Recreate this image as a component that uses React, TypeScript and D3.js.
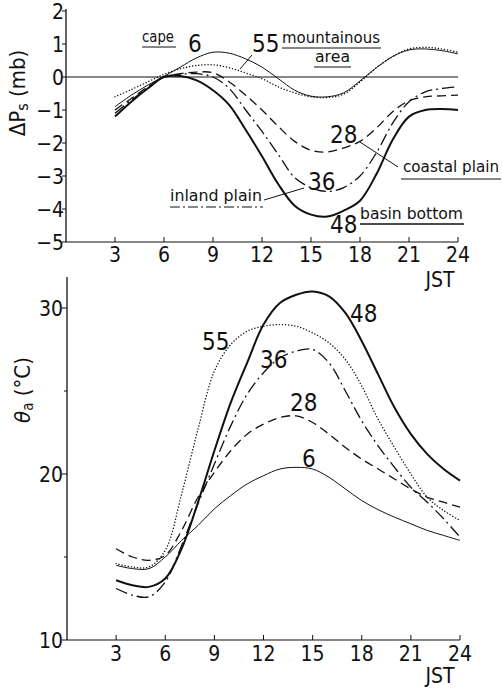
import React from "react";
import * as d3 from "d3";

const hours = [3, 4, 5, 6, 7, 8, 9, 10, 11, 12, 13, 14, 15, 16, 17, 18, 19, 20, 21, 22, 23, 24];
const xTicks = [3, 6, 9, 12, 15, 18, 21, 24];
const dpTicks = [2, 1, 0, -1, -2, -3, -4, -5];
const taMajorTicks = [10, 20, 30];
const taMinorTicks = [15, 25];

// Upper panel: surface pressure deviation ΔPs (mb)
const dp6 = [-0.9, -0.55, -0.25, 0.02, 0.3, 0.58, 0.75, 0.72, 0.55, 0.3, -0.05, -0.4, -0.58, -0.6, -0.48, -0.12, 0.28, 0.62, 0.82, 0.85, 0.8, 0.7];
const dp55 = [-0.6, -0.38, -0.15, 0.08, 0.25, 0.35, 0.37, 0.28, 0.12, -0.05, -0.3, -0.48, -0.6, -0.62, -0.52, -0.15, 0.28, 0.62, 0.85, 0.9, 0.85, 0.75];
const dp28 = [-1.0, -0.65, -0.3, 0.0, 0.1, 0.15, 0.13, -0.15, -0.55, -1.0, -1.5, -1.95, -2.22, -2.27, -2.15, -1.95, -1.55, -1.05, -0.72, -0.6, -0.57, -0.55];
const dp36 = [-1.1, -0.7, -0.33, 0.0, 0.08, 0.1, 0.0, -0.35, -1.0, -1.65, -2.35, -3.05, -3.35, -3.47, -3.35, -3.0, -2.3, -1.4, -0.75, -0.45, -0.35, -0.3];
const dp48 = [-1.2, -0.75, -0.35, 0.0, 0.03, -0.1, -0.4, -0.85, -1.6, -2.4, -3.25, -3.9, -4.17, -4.23, -4.05, -3.75, -2.95, -1.9, -1.2, -1.0, -0.97, -1.0];

// Lower panel: air temperature θa (°C)
const ta6 = [14.5, 14.3, 14.3, 15.0, 16.0, 16.9, 17.9, 18.7, 19.4, 19.9, 20.3, 20.4, 20.3, 19.8, 19.1, 18.4, 17.85, 17.4, 17.0, 16.6, 16.3, 16.0];
const ta55 = [14.6, 14.4, 14.4, 15.4, 18.8, 22.7, 26.2, 27.8, 28.6, 28.9, 29.0, 28.9, 28.5, 27.9, 26.9, 25.3, 23.3, 21.6, 20.0, 18.6, 17.8, 17.2];
const ta28 = [15.5, 15.0, 14.8, 15.1, 16.6, 18.6, 20.1, 21.4, 22.4, 23.0, 23.4, 23.5, 23.1, 22.4, 21.6, 20.9, 20.3, 19.7, 19.1, 18.6, 18.3, 18.0];
const ta36 = [13.1, 12.7, 12.6, 13.5, 15.7, 18.2, 20.6, 22.9, 24.8, 26.1, 27.0, 27.4, 27.5, 26.7, 25.0, 23.2, 21.7, 20.4, 19.2, 18.3, 17.3, 16.2];
const ta48 = [13.6, 13.3, 13.2, 13.7, 15.5, 18.3, 21.4, 24.3, 26.7, 29.0, 30.3, 30.8, 31.0, 30.7, 29.7, 28.0, 26.0, 24.0, 22.4, 21.2, 20.3, 19.6];

const stations = ["6", "55", "28", "36", "48"];
const styles: Record<string, { w: number; dash: string; cap: string }> = {
  "6": { w: 1, dash: "none", cap: "butt" },
  "55": { w: 1.4, dash: "0.1,3", cap: "round" },
  "28": { w: 1.3, dash: "9,5", cap: "butt" },
  "36": { w: 1.3, dash: "12,4,2,4", cap: "butt" },
  "48": { w: 2, dash: "none", cap: "butt" },
};

const INK = "#111";
const NUM_FONT = "'Liberation Sans Narrow', 'DejaVu Sans Condensed', 'Liberation Sans', sans-serif";
const TXT_FONT = "'DejaVu Sans', 'Liberation Sans', sans-serif";

export default function App() {
  // top panel scales
  const xT = d3.scaleLinear().domain([0, 24]).range([66, 458]);
  const yT = d3.scaleLinear().domain([-5, 2]).range([242, 11]);
  // bottom panel scales
  const xB = d3.scaleLinear().domain([0, 24]).range([67, 460]);
  const yB = d3.scaleLinear().domain([10, 32]).range([640, 274.8]);

  const lineT = (vals: number[]) =>
    d3.line<number>().x((_, i) => xT(hours[i])).y((v) => yT(v)).curve(d3.curveCatmullRom.alpha(0.5))(vals) || "";
  const lineB = (vals: number[]) =>
    d3.line<number>().x((_, i) => xB(hours[i])).y((v) => yB(v)).curve(d3.curveCatmullRom.alpha(0.5))(vals) || "";

  const dpSeries: Record<string, number[]> = { "6": dp6, "55": dp55, "28": dp28, "36": dp36, "48": dp48 };
  const taSeries: Record<string, number[]> = { "6": ta6, "55": ta55, "28": ta28, "36": ta36, "48": ta48 };

  const pathProps = (s: string) => ({
    fill: "none",
    stroke: INK,
    strokeWidth: styles[s].w,
    strokeDasharray: styles[s].dash,
    strokeLinecap: styles[s].cap as any,
    strokeLinejoin: "round" as any,
  });

  const bigNum = { fontFamily: NUM_FONT, fontSize: 24, fill: INK };
  const lbl = { fontFamily: TXT_FONT, fontSize: 16, fill: INK };

  return (
    <svg width={503} height={688} style={{ position: "absolute", left: 0, top: 0, background: "#fff" }}>
      <rect x={0} y={0} width={503} height={688} fill="#fff" />

      {/* ===== TOP PANEL ===== */}
      <line x1={xT(0)} x2={xT(0)} y1={9} y2={yT(-5)} stroke={INK} strokeWidth={1.3} />
      <line x1={xT(0)} x2={xT(24)} y1={yT(-5)} y2={yT(-5)} stroke={INK} strokeWidth={1.1} />
      <line x1={xT(0)} x2={xT(24)} y1={yT(0)} y2={yT(0)} stroke={INK} strokeWidth={1} />
      {dpTicks.map((t) => (
        <g key={"dt" + t}>
          <line x1={xT(0) - 4} x2={xT(0)} y1={yT(t)} y2={yT(t)} stroke={INK} strokeWidth={1} />
          <text x={64} y={yT(t)} dy="0.36em" textAnchor="end" fontFamily={NUM_FONT} fontSize={21} fill={INK}>
            {t < 0 ? "\u2212" + Math.abs(t) : String(t)}
          </text>
        </g>
      ))}
      {xTicks.map((t) => (
        <g key={"xt" + t}>
          <line x1={xT(t)} x2={xT(t)} y1={yT(-5)} y2={yT(-5) - 5} stroke={INK} strokeWidth={1} />
          <text x={xT(t)} y={262} textAnchor="middle" fontFamily={NUM_FONT} fontSize={21} fill={INK}>
            {t}
          </text>
        </g>
      ))}
      <text x={440} y={287} textAnchor="middle" fontFamily={NUM_FONT} fontSize={21} fill={INK}>JST</text>
      <text transform="translate(25,93) rotate(-90)" textAnchor="middle" fontFamily={NUM_FONT} fontSize={22} fill={INK}>
        ΔP<tspan fontSize={16} dy={3}>s</tspan><tspan dy={-3}>  (mb)</tspan>
      </text>

      {stations.map((s) => (
        <path key={"dp" + s} d={lineT(dpSeries[s])} {...pathProps(s)} />
      ))}

      {/* top annotations */}
      <text x={142} y={42} {...lbl} textLength={32} lengthAdjust="spacingAndGlyphs">cape</text>
      <line x1={142} x2={176} y1={47} y2={47} stroke={INK} strokeWidth={1} />
      <text x={188} y={52} {...bigNum}>6</text>

      <text x={252} y={52} {...bigNum}>55</text>
      <line x1={240} y1={69} x2={252} y2={55} stroke={INK} strokeWidth={1} />
      <text x={282} y={43} {...lbl} textLength={98} lengthAdjust="spacingAndGlyphs">mountainous</text>
      <line x1={282} x2={381} y1={48} y2={48} stroke={INK} strokeWidth={1.2} />
      <text x={315} y={62} {...lbl} textLength={35} lengthAdjust="spacingAndGlyphs">area</text>
      <line x1={314} x2={351} y1={67} y2={67} stroke={INK} strokeWidth={1.2} />

      <text x={330} y={143} {...bigNum}>28</text>
      <line x1={360} y1={142} x2={398} y2={167} stroke={INK} strokeWidth={1} />
      <text x={403} y={172} {...lbl} textLength={96} lengthAdjust="spacingAndGlyphs">coastal plain</text>
      <line x1={401} x2={501} y1={179} y2={179} stroke={INK} strokeWidth={1} />

      <text x={308} y={190} {...bigNum}>36</text>
      <text x={170} y={201} {...lbl} textLength={92} lengthAdjust="spacingAndGlyphs">inland plain</text>
      <line x1={170} x2={263} y1={207} y2={207} stroke={INK} strokeWidth={1} strokeDasharray="10,3,2,3" />
      <line x1={264} y1={200} x2={304} y2={188} stroke={INK} strokeWidth={1} />

      <text x={330} y={233} {...bigNum}>48</text>
      <text x={360} y={219} {...lbl} textLength={103} lengthAdjust="spacingAndGlyphs">basin bottom</text>
      <line x1={360} x2={464} y1={224} y2={224} stroke={INK} strokeWidth={1.4} />

      {/* ===== BOTTOM PANEL ===== */}
      <line x1={xB(0)} x2={xB(0)} y1={277} y2={yB(10)} stroke={INK} strokeWidth={1.3} />
      <line x1={xB(0)} x2={xB(24)} y1={yB(10)} y2={yB(10)} stroke={INK} strokeWidth={1.1} />
      {taMajorTicks.map((t) => (
        <g key={"ta" + t}>
          <line x1={xB(0) - 5} x2={xB(0)} y1={yB(t)} y2={yB(t)} stroke={INK} strokeWidth={1} />
          <text x={63} y={yB(t)} dy="0.36em" textAnchor="end" fontFamily={NUM_FONT} fontSize={21} fill={INK}>
            {t}
          </text>
        </g>
      ))}
      {taMinorTicks.map((t) => (
        <line key={"tm" + t} x1={xB(0) - 3} x2={xB(0)} y1={yB(t)} y2={yB(t)} stroke={INK} strokeWidth={1} />
      ))}
      {xTicks.map((t) => (
        <g key={"xb" + t}>
          <line x1={xB(t)} x2={xB(t)} y1={yB(10)} y2={yB(10) - 5} stroke={INK} strokeWidth={1} />
          <text x={xB(t)} y={661} textAnchor="middle" fontFamily={NUM_FONT} fontSize={21} fill={INK}>
            {t}
          </text>
        </g>
      ))}
      <text x={440} y={683} textAnchor="middle" fontFamily={NUM_FONT} fontSize={21} fill={INK}>JST</text>
      <text transform="translate(30,390) rotate(-90)" textAnchor="middle" fontFamily={NUM_FONT} fontSize={22} fill={INK}>
        <tspan fontStyle="italic">θ</tspan><tspan fontSize={15} dy={3}>a</tspan><tspan dy={-3}>  (°C)</tspan>
      </text>

      {stations.map((s) => (
        <path key={"ta" + s} d={lineB(taSeries[s])} {...pathProps(s)} />
      ))}

      <text x={202} y={350} {...bigNum}>55</text>
      <text x={350} y={322} {...bigNum}>48</text>
      <text x={260} y={368} {...bigNum}>36</text>
      <text x={290} y={411} {...bigNum}>28</text>
      <text x={302} y={467} {...bigNum}>6</text>
    </svg>
  );
}
